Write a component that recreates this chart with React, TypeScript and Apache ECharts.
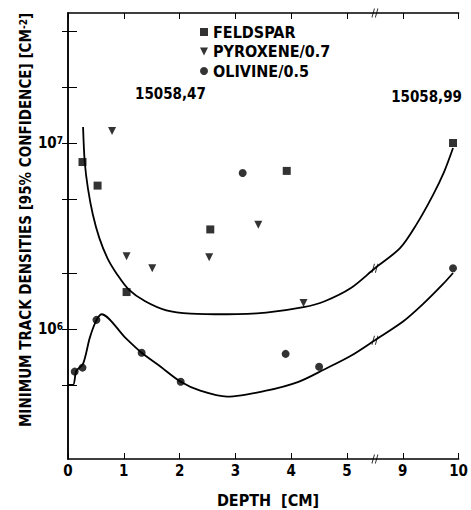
import React, { useEffect, useRef } from 'react';
import * as echarts from 'echarts';

// ---- data (depth in cm, density in cm^-2) ----
const feldspar: number[][] = [
  [0.26, 7.9e6], [0.53, 5.9e6], [1.05, 1.58e6], [2.55, 3.43e6], [3.92, 7.08e6], [9.9, 1.0e7],
];
const pyroxene: number[][] = [
  [0.79, 1.16e7], [1.05, 2.46e6], [1.51, 2.12e6], [2.53, 2.43e6], [3.41, 3.64e6], [4.22, 1.38e6],
];
const olivine: number[][] = [
  [0.12, 5.9e5], [0.26, 6.2e5], [0.51, 1.12e6], [1.32, 7.45e5], [2.02, 5.2e5],
  [3.13, 6.9e6], [3.9, 7.35e5], [4.5, 6.27e5], [9.9, 2.12e6],
];
const upperCurve: number[][] = [
  [0.27, 1.22e7], [0.3, 7.9e6], [0.357, 5.7e6], [0.445, 4.13e6], [0.562, 3.08e6], [0.708, 2.4e6],
  [0.884, 1.96e6], [1.09, 1.63e6], [1.383, 1.41e6], [1.763, 1.26e6], [2.2, 1.21e6], [2.85, 1.2e6],
  [3.55, 1.225e6], [4.22, 1.31e6], [4.6, 1.41e6], [5.07, 1.66e6], [5.5, 2.12e6],
  [8.95, 2.72e6], [9.24, 3.63e6], [9.54, 5.25e6], [9.74, 7.0e6], [9.9, 9.4e6],
];
const lowerCurve: number[][] = [
  [0, 5.0e5], [0.09, 5.0e5], [0.15, 5.96e5], [0.27, 6.5e5], [0.39, 8.96e5], [0.5, 1.1e6],
  [0.6, 1.2e6], [1.03, 8.96e5], [1.32, 7.45e5], [1.62, 6.4e5], [2.02, 5.2e5], [2.37, 4.66e5],
  [2.85, 4.33e5], [3.55, 4.66e5], [4.13, 5.2e5], [4.6, 6.08e5], [5.07, 7.18e5], [5.5, 8.7e5],
  [9.01, 1.1e6], [9.36, 1.36e6], [9.71, 1.73e6], [9.9, 2.0e6],
];
const breakMarks: number[][] = [[5.5, 2e5], [5.5, 5e7], [5.5, 2.12e6], [5.5, 8.7e5]];
const xTickLabels: string[] = ['0', '1', '2', '3', '4', '5', '9', '10'];
const yTickValues: number[] = [5e5, 1e6, 2e6, 5e6, 1e7, 2e7, 4e7];
const yLabelValues: number[] = [1e6, 1e7];
const seriesNames: string[] = ['FELDSPAR', 'PYROXENE/0.7', 'OLIVINE/0.5'];

// axis break: depths 5.5..8.5 are cut out
const BREAK_FROM = 5.5;
const BREAK_TO = 8.5;
const tx = (d: number) => (d <= BREAK_FROM ? d : d - (BREAK_TO - BREAK_FROM));
const conv = (arr: number[][]) => arr.map(([x, y]) => [tx(x), y]);

const FONT = '"DejaVu Sans Condensed", "DejaVu Sans", sans-serif';
const TRI = 'path://M0,0L10,0L5,10Z';
const BREAK_SYM = 'path://M0,10L3,0M4,10L7,0';

export default function App() {
  const ref = useRef<HTMLDivElement>(null);
  useEffect(() => {
    if (!ref.current) return;
    const chart = echarts.init(ref.current, undefined, { renderer: 'svg' });
    const axisLine = { show: true, lineStyle: { color: '#000', width: 1.5 } };
    const xCommon = {
      type: 'value' as const, min: 0, max: 7, interval: 1, splitLine: { show: false },
      axisLine,
    };
    const yCommon = {
      type: 'log' as const, min: 2e5, max: 5e7, logBase: 10, splitLine: { show: false },
      axisLine, minorTick: { show: false },
    };
    chart.setOption({
      animation: false,
      backgroundColor: '#fff',
      grid: { left: 68, right: 4, top: 13, bottom: 51 },
      legend: {
        orient: 'vertical', left: 200, top: 24, padding: 0, itemGap: 3.5, itemWidth: 8, itemHeight: 8,
        selectedMode: false,
        data: [
          { name: seriesNames[0], icon: 'rect' },
          { name: seriesNames[1], icon: TRI },
          { name: seriesNames[2], icon: 'circle' },
        ],
        textStyle: { fontSize: 16, fontWeight: 'bold', fontFamily: FONT, color: '#000', lineHeight: 16 },
      },
      xAxis: [
        {
          ...xCommon, position: 'bottom',
          axisTick: { inside: true, length: 6, lineStyle: { color: '#000', width: 1 } },
          axisLabel: {
            margin: 4, color: '#000', fontSize: 15, fontWeight: 'bold', fontFamily: FONT,
            formatter: (v: number) => xTickLabels[Math.round(v)] ?? '',
          },
        },
        {
          ...xCommon, position: 'top',
          axisTick: { inside: true, length: 6, lineStyle: { color: '#000', width: 1 } },
          axisLabel: { show: false },
        },
      ],
      yAxis: [
        {
          ...yCommon, position: 'left',
          axisTick: { inside: true, length: 9, customValues: yTickValues, lineStyle: { color: '#000', width: 1 } },
          axisLabel: {
            customValues: yLabelValues, margin: 5, color: '#000',
            formatter: (v: number) => `{b|10}{s|${Math.round(Math.log10(v))}}`,
            rich: {
              b: { fontSize: 15, fontWeight: 'bold', fontFamily: FONT, color: '#000' },
              s: { fontSize: 10, fontWeight: 'bold', fontFamily: FONT, color: '#000', verticalAlign: 'top' },
            },
          },
        },
        {
          ...yCommon, position: 'right',
          axisTick: { inside: true, length: 6, customValues: yTickValues, lineStyle: { color: '#000', width: 1 } },
          axisLabel: { show: false },
        },
      ],
      series: [
        {
          type: 'line', data: conv(upperCurve), smooth: 0.3, showSymbol: false,
          lineStyle: { color: '#000', width: 1.8 }, silent: true,
        },
        {
          type: 'line', data: conv(lowerCurve), smooth: 0.3, showSymbol: false,
          lineStyle: { color: '#000', width: 1.8 }, silent: true,
        },
        {
          name: seriesNames[0], type: 'scatter', data: conv(feldspar), symbol: 'rect', symbolSize: 8,
          itemStyle: { color: '#000' },
        },
        {
          name: seriesNames[1], type: 'scatter', data: conv(pyroxene), symbol: TRI, symbolSize: [8, 8],
          itemStyle: { color: '#000' },
        },
        {
          name: seriesNames[2], type: 'scatter', data: conv(olivine), symbol: 'circle', symbolSize: 8,
          itemStyle: { color: '#000' },
        },
        {
          type: 'scatter', data: conv(breakMarks), symbol: BREAK_SYM, symbolSize: [6, 9], clip: false,
          itemStyle: { color: 'transparent', borderColor: '#000', borderWidth: 1.2 }, silent: true,
        },
      ],
      graphic: [
        {
          type: 'text', left: 135, top: 86,
          style: { text: '15058,47', font: `bold 15px ${FONT}`, fill: '#000' },
        },
        {
          type: 'text', right: 9, top: 89,
          style: { text: '15058,99', font: `bold 15px ${FONT}`, fill: '#000' },
        },
        {
          type: 'text', x: 268, y: 500,
          style: {
            text: 'DEPTH  [CM]', font: `bold 16px ${FONT}`, fill: '#000',
            align: 'center', verticalAlign: 'middle',
          },
        },
        {
          type: 'text', x: 26, y: 220, rotation: Math.PI / 2,
          style: {
            text: '{a|MINIMUM TRACK DENSITIES [95% CONFIDENCE] [CM}{s|-2}{a|]}',
            align: 'center', verticalAlign: 'middle',
            rich: {
              a: { fontSize: 15, fontWeight: 'bold', fontFamily: FONT, fill: '#000', color: '#000' },
              s: { fontSize: 10, fontWeight: 'bold', fontFamily: FONT, fill: '#000', color: '#000', verticalAlign: 'top' },
            },
          },
        },
      ],
    });
    return () => chart.dispose();
  }, []);
  return (
    <div
      ref={ref}
      style={{ position: 'fixed', left: 0, top: 0, width: 471, height: 510, background: '#fff' }}
    />
  );
}
